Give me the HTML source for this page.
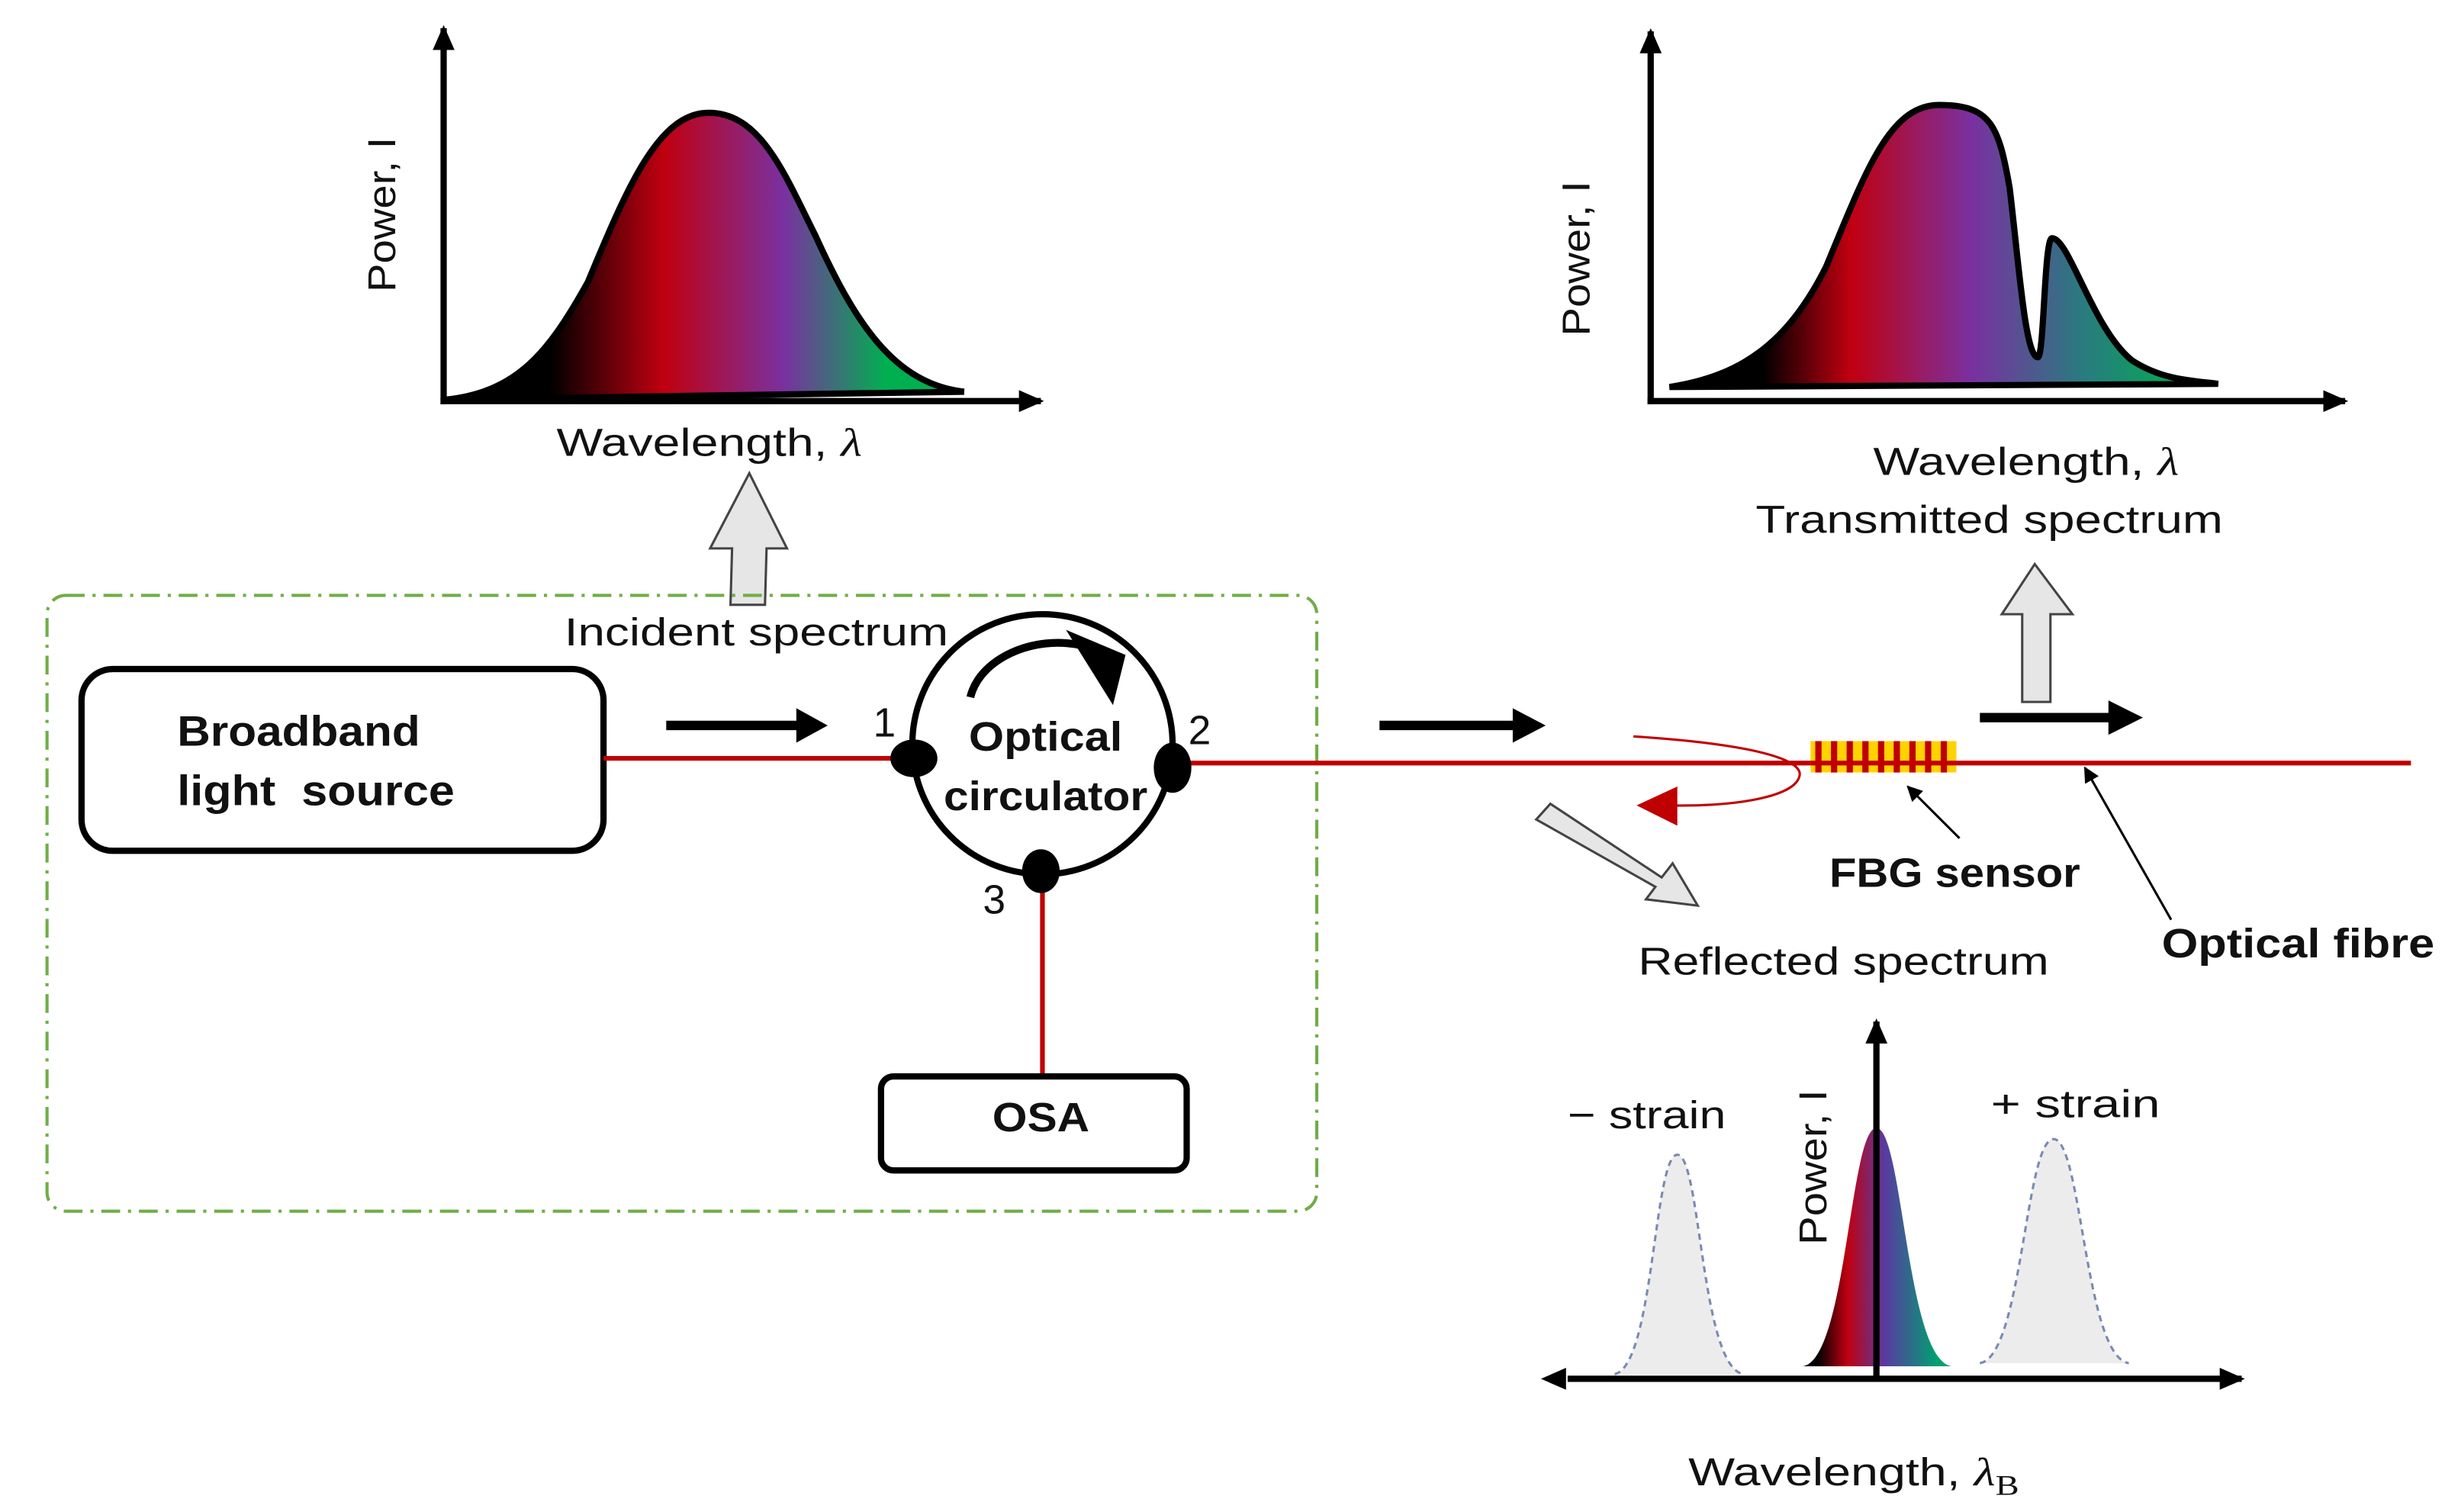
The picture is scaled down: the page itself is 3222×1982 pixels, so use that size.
<!DOCTYPE html>
<html><head><meta charset="utf-8"><style>
html,body{margin:0;padding:0;background:#fff;}
svg{display:block;}
text{font-family:"Liberation Sans","DejaVu Sans",sans-serif;fill:#111;}
.b{font-weight:bold;}
</style></head><body>
<svg width="3222" height="1982" viewBox="0 0 1568 965" preserveAspectRatio="none" xmlns="http://www.w3.org/2000/svg">
<defs>
<linearGradient id="g1" x1="285" y1="0" x2="615" y2="0" gradientUnits="userSpaceOnUse">
<stop offset="0.2" stop-color="#000"/><stop offset="0.42" stop-color="#c00010"/><stop offset="0.65" stop-color="#7a30a0"/><stop offset="0.85" stop-color="#00b050"/>
</linearGradient>
<linearGradient id="g2" x1="1065" y1="0" x2="1415" y2="0" gradientUnits="userSpaceOnUse">
<stop offset="0.17" stop-color="#000"/><stop offset="0.33" stop-color="#c00010"/><stop offset="0.55" stop-color="#7a30a0"/><stop offset="0.75" stop-color="#2a7a80"/><stop offset="0.95" stop-color="#00b050"/>
</linearGradient>
<linearGradient id="g3" x1="1150" y1="0" x2="1245" y2="0" gradientUnits="userSpaceOnUse">
<stop offset="0.1" stop-color="#000"/><stop offset="0.3" stop-color="#c00010"/><stop offset="0.55" stop-color="#5a3aa0"/><stop offset="0.9" stop-color="#00a070"/>
</linearGradient>
<marker id="ah" markerWidth="10" markerHeight="10" refX="9" refY="5" orient="auto" markerUnits="userSpaceOnUse"><path d="M0,0 L10,5 L0,10 z" fill="#000"/></marker>
<marker id="ah2" markerWidth="16" markerHeight="14" refX="14" refY="7" orient="auto" markerUnits="userSpaceOnUse"><path d="M0,0 L16,7 L0,14 z" fill="#000"/></marker>
</defs>

<!-- top-left chart -->
<path d="M285,255 C330,250 350,225 375,180 C400,120 420,72 452,72 C485,72 500,110 520,150 C545,205 570,245 615,250 Z" fill="url(#g1)" stroke="#000" stroke-width="4"/>
<line x1="283" y1="258" x2="283" y2="18" stroke="#000" stroke-width="4" marker-end="url(#ah2)"/>
<line x1="281" y1="256" x2="664" y2="256" stroke="#000" stroke-width="4" marker-end="url(#ah2)"/>
<text x="252" y="137" font-size="25" transform="rotate(-90 252 137)" text-anchor="middle" textLength="99" lengthAdjust="spacingAndGlyphs">Power, I</text>
<text x="355" y="291" font-size="25" textLength="195" lengthAdjust="spacingAndGlyphs">Wavelength, <tspan font-style="italic" font-family="Liberation Serif">λ</tspan></text>
<path d="M466,386 L467,350 L453,350 L478,302 L502,350 L489,350 L488,386 Z" fill="#e6e6e6" stroke="#444" stroke-width="1.5"/>
<text x="360" y="412" font-size="25" textLength="245" lengthAdjust="spacingAndGlyphs">Incident spectrum</text>

<!-- green box -->
<rect x="30" y="380" width="810" height="393" rx="12" fill="none" stroke="#70ad47" stroke-width="2" stroke-dasharray="12,5,2,5"/>

<rect x="52" y="427" width="333" height="116" rx="20" fill="#fff" stroke="#000" stroke-width="4"/>
<text x="113" y="476" font-size="27" class="b" textLength="155" lengthAdjust="spacingAndGlyphs">Broadband</text>
<text x="113" y="514" font-size="27" class="b" xml:space="preserve" textLength="177" lengthAdjust="spacingAndGlyphs">light  source</text>

<line x1="385" y1="484" x2="582" y2="484" stroke="#c00000" stroke-width="3"/>
<line x1="748" y1="487" x2="1538" y2="487" stroke="#c00000" stroke-width="3"/>
<line x1="665" y1="553" x2="665" y2="687" stroke="#c00000" stroke-width="3"/>

<circle cx="665" cy="475" r="83" fill="#fff" stroke="#000" stroke-width="4"/>
<ellipse cx="583" cy="484" rx="15" ry="12" fill="#000"/>
<ellipse cx="748" cy="490" rx="12" ry="16" fill="#000"/>
<ellipse cx="664" cy="556" rx="12" ry="14" fill="#000"/>
<path d="M619,445 C625,420 660,405 690,412" fill="none" stroke="#000" stroke-width="5"/>
<path d="M680,402 L718,418 L710,450 Z" fill="#000"/>
<text x="557" y="470" font-size="26">1</text>
<text x="758" y="475" font-size="26">2</text>
<text x="627" y="583" font-size="26">3</text>
<text x="618" y="479" font-size="26" class="b" textLength="98" lengthAdjust="spacingAndGlyphs">Optical</text>
<text x="602" y="517" font-size="26" class="b" textLength="130" lengthAdjust="spacingAndGlyphs">circulator</text>

<rect x="562" y="687" width="195" height="60" rx="8" fill="#fff" stroke="#000" stroke-width="4"/>
<text x="633" y="722" font-size="26" class="b" textLength="62" lengthAdjust="spacingAndGlyphs">OSA</text>

<!-- black arrows -->
<line x1="425" y1="463" x2="515" y2="463" stroke="#000" stroke-width="6"/><path d="M508,452 L528,463 L508,474 Z" fill="#000"/>
<line x1="880" y1="463" x2="972" y2="463" stroke="#000" stroke-width="6"/><path d="M965,452 L986,463 L965,474 Z" fill="#000"/>
<line x1="1263" y1="458" x2="1352" y2="458" stroke="#000" stroke-width="6"/><path d="M1345,447 L1367,458 L1345,469 Z" fill="#000"/>

<!-- FBG -->
<rect x="1155" y="473" width="93" height="20" fill="#ffd200"/>
<g stroke="#c00000" stroke-width="4">
<line x1="1160" y1="473" x2="1160" y2="493"/><line x1="1170" y1="473" x2="1170" y2="493"/><line x1="1180" y1="473" x2="1180" y2="493"/><line x1="1190" y1="473" x2="1190" y2="493"/><line x1="1200" y1="473" x2="1200" y2="493"/><line x1="1210" y1="473" x2="1210" y2="493"/><line x1="1220" y1="473" x2="1220" y2="493"/><line x1="1230" y1="473" x2="1230" y2="493"/><line x1="1240" y1="473" x2="1240" y2="493"/>
</g>
<line x1="1155" y1="487" x2="1248" y2="487" stroke="#c00000" stroke-width="3"/>
<path d="M1042,470 C1120,475 1150,485 1148,495 C1145,510 1100,515 1065,514" fill="none" stroke="#c00000" stroke-width="1.5"/>
<path d="M1044,514 L1070,502 L1070,527 Z" fill="#c00000"/>

<path d="M1290,448 L1290,392 L1277,392 L1298,360 L1322,392 L1308,392 L1308,448 Z" fill="#e6e6e6" stroke="#444" stroke-width="1.5"/>
<path d="M980,523 L989,513 L1060,560 L1067,551 L1083,578 L1050,574 L1056,566 Z" fill="#e6e6e6" stroke="#444" stroke-width="1.5"/>

<line x1="1250" y1="535" x2="1217" y2="502" stroke="#000" stroke-width="1.5" marker-end="url(#ah)"/>
<line x1="1385" y1="587" x2="1330" y2="490" stroke="#000" stroke-width="1.5" marker-end="url(#ah)"/>
<text x="1167" y="566" font-size="26" class="b" textLength="160" lengthAdjust="spacingAndGlyphs">FBG sensor</text>
<text x="1379" y="611" font-size="26" class="b" textLength="174" lengthAdjust="spacingAndGlyphs">Optical fibre</text>
<text x="1045" y="622" font-size="25" textLength="262" lengthAdjust="spacingAndGlyphs">Reflected spectrum</text>

<!-- top-right chart -->
<path d="M1065,247 C1110,240 1140,220 1165,170 C1190,110 1205,67 1237,67 C1270,67 1275,80 1282,120 C1288,170 1292,228 1300,228 C1304,228 1304,152 1309,152 C1320,152 1335,210 1360,230 C1380,243 1400,243 1415,245 Z" fill="url(#g2)" stroke="#000" stroke-width="4"/>
<line x1="1053" y1="258" x2="1053" y2="20" stroke="#000" stroke-width="4" marker-end="url(#ah2)"/>
<line x1="1051" y1="256" x2="1496" y2="256" stroke="#000" stroke-width="4" marker-end="url(#ah2)"/>
<text x="1014" y="165" font-size="25" transform="rotate(-90 1014 165)" text-anchor="middle" textLength="99" lengthAdjust="spacingAndGlyphs">Power, I</text>
<text x="1195" y="303" font-size="25" textLength="195" lengthAdjust="spacingAndGlyphs">Wavelength, <tspan font-style="italic" font-family="Liberation Serif">λ</tspan></text>
<text x="1120" y="340" font-size="25" textLength="298" lengthAdjust="spacingAndGlyphs">Transmitted spectrum</text>

<!-- bottom chart -->
<path d="M1030,877 C1055,872 1055,737 1070,737 C1085,737 1085,872 1112,877" fill="#ececec" stroke="#7a8ab0" stroke-width="1.5" stroke-dasharray="4,3"/>
<path d="M1263,870 C1290,866 1292,727 1310,727 C1328,727 1330,866 1358,870" fill="#ececec" stroke="#7a8ab0" stroke-width="1.5" stroke-dasharray="4,3"/>
<path d="M1150,872 C1178,868 1180,720 1197,720 C1214,720 1216,868 1245,872 Z" fill="url(#g3)"/>
<line x1="1197" y1="880" x2="1197" y2="652" stroke="#000" stroke-width="4" marker-end="url(#ah2)"/>
<line x1="1000" y1="880" x2="1430" y2="880" stroke="#000" stroke-width="4" marker-end="url(#ah2)"/>
<path d="M983,880 L999,873 L999,887 Z" fill="#000"/>
<text x="1165" y="745" font-size="25" transform="rotate(-90 1165 745)" text-anchor="middle" textLength="99" lengthAdjust="spacingAndGlyphs">Power, I</text>
<text x="1000" y="720" font-size="25" textLength="101" lengthAdjust="spacingAndGlyphs">− strain</text>
<text x="1270" y="713" font-size="25" textLength="108" lengthAdjust="spacingAndGlyphs">+ strain</text>
<text x="1077" y="948" font-size="25" textLength="211" lengthAdjust="spacingAndGlyphs">Wavelength, <tspan font-style="italic" font-family="Liberation Serif">λ</tspan><tspan font-family="Liberation Serif" font-size="18" dy="6">B</tspan></text>
</svg>
</body></html>
